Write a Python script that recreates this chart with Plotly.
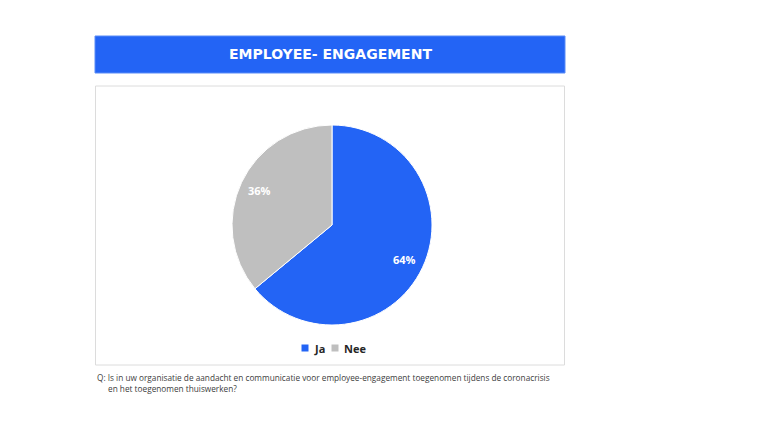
import math
import plotly.graph_objects as go

W, H = 760, 428
categories = ["Ja", "Nee"]
values = [64, 36]
colors = ["#2364F5", "#BFBFBF"]
title_text = "EMPLOYEE- ENGAGEMENT"
question_line1 = "Q: Is in uw organisatie de aandacht en communicatie voor employee-engagement toegenomen tijdens de coronacrisis"
question_line2 = "en het toegenomen thuiswerken?"

def px(x):
    return x / W

def py(y):
    return 1 - y / H

# pie geometry (center / radius in pixels)
CX, CY, R = 332, 225, 100

fig = go.Figure()
fig.add_trace(go.Pie(
    labels=categories, values=values, sort=False, direction="clockwise", rotation=0,
    marker=dict(colors=colors, line=dict(color="white", width=1)),
    textinfo="none",
    domain=dict(x=[px(CX - R), px(CX + R)], y=[py(CY + R), py(CY - R)]),
    hoverinfo="label+percent", showlegend=False,
))

shapes = [
    dict(type="rect", xref="paper", yref="paper", x0=px(95), x1=px(565), y0=py(73), y1=py(36),
         fillcolor="#2364F5", line=dict(color="#5b8cf7", width=1)),
    dict(type="rect", xref="paper", yref="paper", x0=px(95.5), x1=px(564.5), y0=py(365), y1=py(86),
         fillcolor="rgba(0,0,0,0)", line=dict(color="#dcdcdc", width=1)),
]

annotations = [
    dict(x=px(330), y=py(54), xref="paper", yref="paper", text="<b>" + title_text + "</b>",
         showarrow=False, font=dict(family="DejaVu Sans", size=14, color="white"),
         xanchor="center", yanchor="middle"),
    dict(x=px(95), y=py(377), xref="paper", yref="paper", text=question_line1,
         showarrow=False, font=dict(family="Open Sans", size=8.25, color="#404040"),
         xanchor="left", yanchor="middle"),
    dict(x=px(106), y=py(388), xref="paper", yref="paper", text=question_line2,
         showarrow=False, font=dict(family="Open Sans", size=8.25, color="#404040"),
         xanchor="left", yanchor="middle"),
]

# percentage labels placed along each slice's mid-angle, near the rim
total = sum(values)
cum = 0
for v in values:
    mid = (cum + v / 2) / total * 2 * math.pi
    cum += v
    lx = CX + 0.80 * R * math.sin(mid)
    ly = CY - 0.80 * R * math.cos(mid)
    annotations.append(dict(
        x=px(lx), y=py(ly), xref="paper", yref="paper",
        text="<b>%d%%</b>" % round(100 * v / total), showarrow=False,
        font=dict(family="Open Sans", size=11, color="white"),
        xanchor="center", yanchor="middle"))

# legend drawn as swatches + labels
leg_x = [305, 335]
for cat, col, lx in zip(categories, colors, leg_x):
    shapes.append(dict(type="rect", xref="paper", yref="paper",
                       x0=px(lx - 3.5), x1=px(lx + 3.5), y0=py(351.5), y1=py(344.5),
                       fillcolor=col, line=dict(width=0)))
    annotations.append(dict(x=px(lx + 7), y=py(348), xref="paper", yref="paper",
                            text="<b>" + cat + "</b>", showarrow=False,
                            font=dict(family="Open Sans", size=11, color="#262626"),
                            xanchor="left", yanchor="middle"))

fig.update_layout(
    width=W, height=H, margin=dict(l=0, r=0, t=0, b=0),
    paper_bgcolor="white", plot_bgcolor="white",
    shapes=shapes, annotations=annotations,
    showlegend=False,
)

fig.write_html("out.html")
